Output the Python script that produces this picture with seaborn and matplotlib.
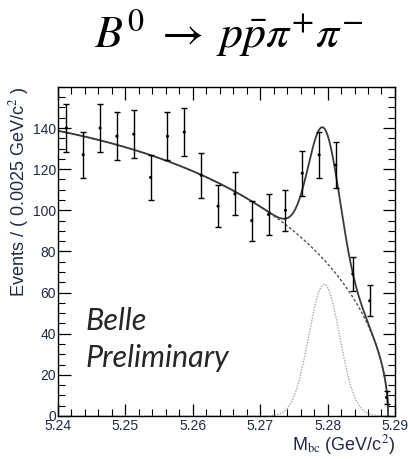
import numpy as np
import pandas as pd
import matplotlib
matplotlib.use("Agg")
import matplotlib.pyplot as plt
import seaborn as sns
from matplotlib.ticker import MultipleLocator

# ---- data ----
bin_centers = [5.24125, 5.24375, 5.24625, 5.24875, 5.25125, 5.25375, 5.25625, 5.25875,
               5.26125, 5.26375, 5.26625, 5.26875, 5.27125, 5.27375, 5.27625, 5.27875,
               5.28125, 5.28375, 5.28625, 5.28875]
counts = [140, 127, 140, 136, 137, 116, 136, 138, 117, 102,
          108, 95, 98, 100, 118, 127, 122, 69, 56, 9]
errors = [11.8, 11.3, 11.8, 11.7, 11.7, 10.8, 11.7, 11.7, 10.8, 10.1,
          10.4, 9.7, 9.9, 10.0, 10.9, 11.3, 11.0, 8.3, 7.5, 3.0]

# fit model parameters (ARGUS background + Gaussian signal)
argus_m0 = 5.289
argus_c = -14.5
argus_norm = 1334.0
sig_mean = 5.2795
sig_sigma = 0.0023
sig_peak = 64.0

x_ticks = [5.24, 5.25, 5.26, 5.27, 5.28, 5.29]
x_tick_labels = ["5.24", "5.25", "5.26", "5.27", "5.28", "5.29"]
y_ticks = [0, 20, 40, 60, 80, 100, 120, 140]

# ---- model curves ----
m = np.linspace(5.24, argus_m0, 600)
u = np.clip(1 - (m / argus_m0) ** 2, 0, None)
bkg = argus_norm * np.sqrt(u) * np.exp(argus_c * u)
sig = sig_peak * np.exp(-0.5 * ((m - sig_mean) / sig_sigma) ** 2)
tot = bkg + sig
curves = pd.DataFrame({"m": m, "bkg": bkg, "sig": sig, "tot": tot})
data = pd.DataFrame({"m": bin_centers, "n": counts, "e": errors})

sns.set_style("ticks")
plt.rcParams["font.family"] = ["Liberation Sans", "DejaVu Sans"]
plt.rcParams["mathtext.fontset"] = "stix"

fig = plt.figure(figsize=(4.08, 4.59), dpi=100)
ax = fig.add_axes([0.142, 0.0937, 0.826, 0.717])

sns.lineplot(data=curves, x="m", y="sig", ax=ax, color="#a8a8a8", lw=1.0,
             linestyle=(0, (1, 1)))
sns.lineplot(data=curves, x="m", y="bkg", ax=ax, color="#555555", lw=1.0,
             linestyle=(0, (2, 1.5)))
sns.lineplot(data=curves, x="m", y="tot", ax=ax, color="#3a3a3a", lw=1.3)
ax.errorbar(data["m"], data["n"], yerr=data["e"], fmt="none", ecolor="black",
            elinewidth=1.0, capsize=2, capthick=1.0)
sns.scatterplot(data=data, x="m", y="n", ax=ax, color="black", s=5,
                edgecolor="none", zorder=5)

ax.set_xlim(5.24, 5.29)
ax.set_ylim(0, 160)
ax.set_xticks(x_ticks)
ax.set_xticklabels(x_tick_labels)
ax.set_yticks(y_ticks)
ax.xaxis.set_minor_locator(MultipleLocator(0.002))
ax.yaxis.set_minor_locator(MultipleLocator(5))
lblcol = "#1f2a44"
ax.tick_params(which="both", direction="in", top=True, right=True,
               labelsize=10, labelcolor=lblcol, color="black")
ax.tick_params(axis="x", pad=2.5)
ax.tick_params(axis="y", pad=1.5)
ax.tick_params(which="major", length=9, width=0.9)
ax.tick_params(which="minor", length=5, width=0.8)
for s in ax.spines.values():
    s.set_color("black")
    s.set_linewidth(1.0)

ax.set_ylabel("Events / ( 0.0025 GeV/c$^{2}$ )", fontsize=13, color=lblcol,
              loc="top", labelpad=1)
ax.set_xlabel("M$_{\\mathrm{bc}}$ (GeV/c$^{2}$)", fontsize=13, color=lblcol,
              loc="right", labelpad=0)

fig.text(0.561, 1 - 48 / 459, r"$B^{0}\;\rightarrow\;p\bar{p}\pi^{+}\pi^{-}$",
         fontsize=33, ha="center", va="baseline", color="black")

ax.text(0.083, 0.29, "Belle", transform=ax.transAxes, fontsize=22,
        family=["Lato", "DejaVu Sans"], style="italic", va="center")
ax.text(0.083, 0.175, "Preliminary", transform=ax.transAxes, fontsize=22,
        family=["Lato", "DejaVu Sans"], style="italic", va="center")

fig.savefig("out.png", dpi=100)
